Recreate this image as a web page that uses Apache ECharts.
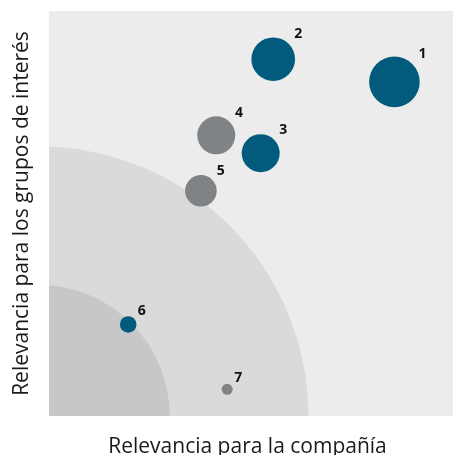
<!DOCTYPE html>
<html><head><meta charset="utf-8">
<script src="https://cdn.jsdelivr.net/npm/echarts@6/dist/echarts.min.js"></script>
<style>html,body{margin:0;padding:0;background:#fff}#c{width:453px;height:455px}</style>
</head><body><div id="c"></div>
<script>
// Data
const ids = ['1','2','3','4','5','6','7'];
const companyRelevance = [85.5, 55.5, 52.4, 41.4, 37.6, 19.6, 44.1];
const stakeholderRelevance = [82.5, 88.1, 64.9, 69.3, 55.6, 22.6, 6.6];
const bubbleSize = [50.6, 43.6, 38, 38, 31.6, 16.6, 11];
const group = ['a','a','a','b','b','a','b'];
// zones: [centerX, centerY, radius] in data units
const zones = [[-2.5, 0, 66.7], [-2.5, 0, 32.4]];
const zoneColors = ['#dadada', '#c7c7c7'];
const xTitle = 'Relevancia para la compañía';
const yTitle = 'Relevancia para los grupos de interés';

const colors = {a: '#025b7d', b: '#7f8386'};
const font = '"Open Sans", "Noto Sans", sans-serif';

const scatterData = ids.map((id, i) => {
  const r = bubbleSize[i] / 2;
  const off = r * 0.85 + 6.5;
  return {
    name: id,
    value: [companyRelevance[i], stakeholderRelevance[i], bubbleSize[i]],
    itemStyle: {color: colors[group[i]], opacity: 1},
    label: {offset: [off, -off]}
  };
});

const chart = echarts.init(document.getElementById('c'), null, {renderer: 'canvas'});
chart.setOption({
  animation: false,
  grid: {left: 49, right: 0, top: 11, bottom: 39, show: true, backgroundColor: '#ececec', borderWidth: 0,
         containLabel: false, outerBoundsMode: 'none'},
  xAxis: {
    type: 'value', min: 0, max: 100,
    axisLine: {show: false}, axisTick: {show: false}, axisLabel: {show: false}, splitLine: {show: false},
    name: xTitle, nameLocation: 'middle', nameGap: 21,
    nameTextStyle: {fontFamily: font, fontSize: 21, color: '#1a1a1a', padding: [0, 7, 0, 0]}
  },
  yAxis: {
    type: 'value', min: 0, max: 100,
    axisLine: {show: false}, axisTick: {show: false}, axisLabel: {show: false}, splitLine: {show: false},
    name: yTitle, nameLocation: 'middle', nameGap: 16,
    nameTextStyle: {fontFamily: font, fontSize: 21, color: '#1a1a1a'}
  },
  series: [
    {
      type: 'custom',
      z: 1,
      data: zones.map((z, i) => ({value: z})),
      renderItem: function (params, api) {
        const c = api.coord([api.value(0), api.value(1)]);
        const r = api.size([api.value(2), 0])[0];
        const cs = params.coordSys;
        return {
          type: 'circle',
          shape: {cx: c[0], cy: c[1], r: r},
          style: {fill: zoneColors[params.dataIndex]},
          clipPath: {type: 'rect', shape: {x: cs.x, y: cs.y, width: cs.width, height: cs.height}}
        };
      },
      silent: true
    },
    {
      type: 'scatter',
      z: 3,
      data: scatterData,
      symbolSize: d => d[2],
      itemStyle: {opacity: 1},
      label: {
        show: true, position: 'inside', formatter: '{b}',
        fontFamily: font, fontWeight: 'bold', fontSize: 14, color: '#111111', opacity: 1
      },
      emphasis: {disabled: true}
    }
  ]
});
</script></body></html>
